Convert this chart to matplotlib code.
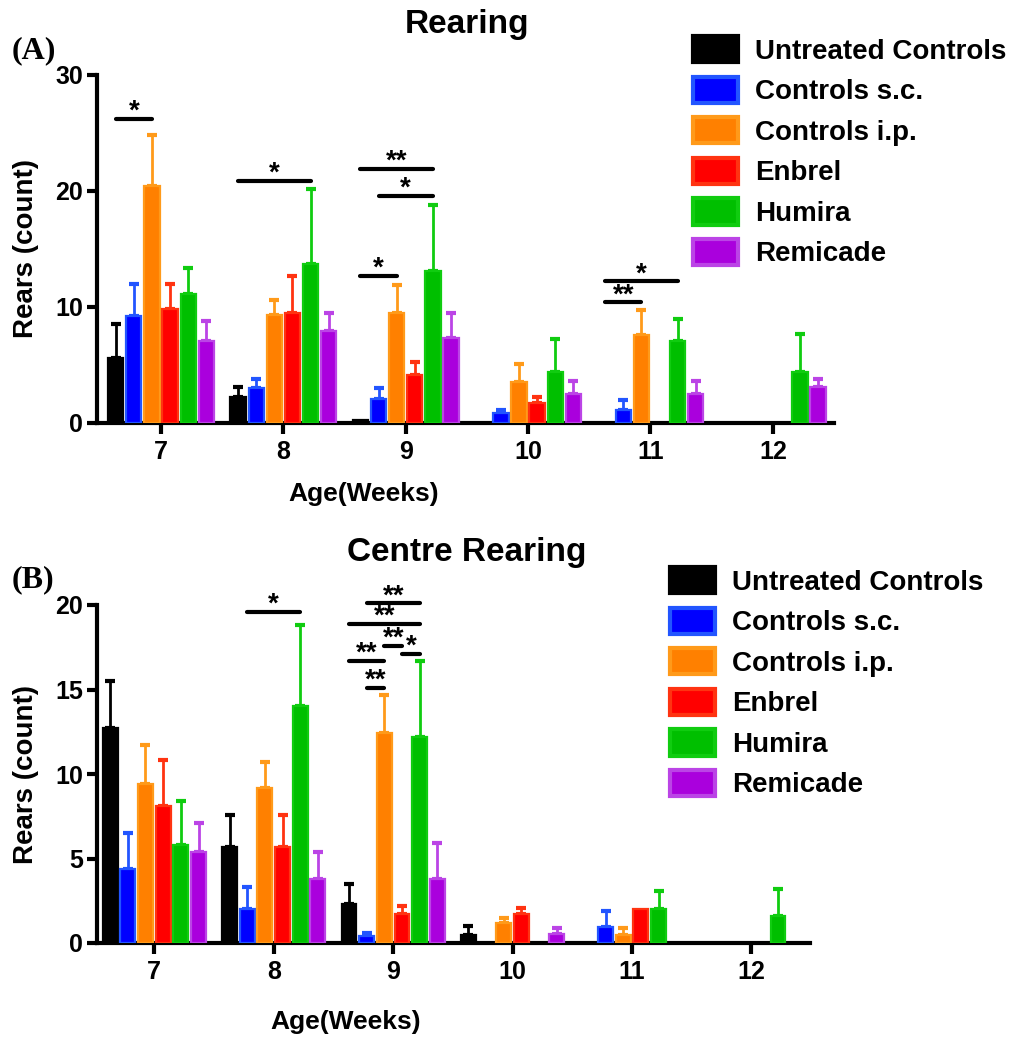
import matplotlib
matplotlib.use('Agg')
import matplotlib.pyplot as plt
import numpy as np
from matplotlib.patches import Patch

plt.rcParams['font.family'] = ['Liberation Sans', 'DejaVu Sans']
plt.rcParams['font.weight'] = 'bold'

# ---------------- data ----------------
weeks = [7, 8, 9, 10, 11, 12]
series = ['Untreated Controls', 'Controls s.c.', 'Controls i.p.', 'Enbrel', 'Humira', 'Remicade']
face_colors = ['#000000', '#0000FF', '#FF8000', '#FF0000', '#00BF00', '#AA00DD']
edge_colors = ['#000000', '#2255FF', '#FF9A1A', '#FF3311', '#10CC10', '#BB44E6']

# Panel A: Rearing (mean, SEM)
rear_untreated = [5.6, 2.2, 0.3, 0.0, 0.0, 0.0]
rear_untreated_sem = [2.9, 0.9, 0.0, 0.0, 0.0, 0.0]
rear_sc = [9.2, 3.0, 2.1, 0.9, 1.1, 0.0]
rear_sc_sem = [2.8, 0.8, 0.9, 0.2, 0.9, 0.0]
rear_ip = [20.4, 9.3, 9.5, 3.5, 7.6, 0.0]
rear_ip_sem = [4.4, 1.3, 2.4, 1.6, 2.1, 0.0]
rear_enbrel = [9.8, 9.5, 4.1, 1.7, 0.0, 0.0]
rear_enbrel_sem = [2.2, 3.2, 1.2, 0.5, 0.0, 0.0]
rear_humira = [11.1, 13.7, 13.1, 4.4, 7.1, 4.4]
rear_humira_sem = [2.3, 6.5, 5.7, 2.8, 1.9, 3.3]
rear_remicade = [7.1, 7.9, 7.3, 2.5, 2.5, 3.1]
rear_remicade_sem = [1.7, 1.6, 2.2, 1.1, 1.1, 0.7]

# Panel B: Centre rearing (mean, SEM)
centre_untreated = [12.7, 5.7, 2.3, 0.5, 0.0, 0.0]
centre_untreated_sem = [2.8, 1.9, 1.2, 0.5, 0.0, 0.0]
centre_sc = [4.4, 2.0, 0.4, 0.0, 0.95, 0.0]
centre_sc_sem = [2.1, 1.3, 0.2, 0.0, 0.95, 0.0]
centre_ip = [9.4, 9.2, 12.4, 1.2, 0.5, 0.0]
centre_ip_sem = [2.3, 1.5, 2.3, 0.3, 0.4, 0.0]
centre_enbrel = [8.1, 5.7, 1.7, 1.7, 2.0, 0.0]
centre_enbrel_sem = [2.7, 1.9, 0.5, 0.4, 0.0, 0.0]
centre_humira = [5.8, 14.0, 12.2, 0.0, 2.0, 1.6]
centre_humira_sem = [2.6, 4.8, 4.5, 0.0, 1.1, 1.6]
centre_remicade = [5.4, 3.8, 3.8, 0.55, 0.0, 0.0]
centre_remicade_sem = [1.7, 1.6, 2.1, 0.35, 0.0, 0.0]

# significance brackets: (week, series_i, series_j, height, label)
sig_rearing = [(7, 0, 2, 26.2, '*'), (8, 0, 4, 20.9, '*'), (9, 0, 4, 21.9, '**'),
               (9, 1, 4, 19.6, '*'), (9, 0, 2, 12.7, '*'), (11, 0, 4, 12.2, '*'),
               (11, 0, 2, 10.4, '**')]
sig_centre = [(8, 1, 4, 19.6, '*'), (9, 1, 4, 20.1, '**'), (9, 0, 4, 18.9, '**'),
              (9, 2, 3, 17.6, '**'), (9, 3, 4, 17.1, '*'), (9, 0, 2, 16.7, '**'),
              (9, 1, 2, 15.1, '**')]

rear_means = [rear_untreated, rear_sc, rear_ip, rear_enbrel, rear_humira, rear_remicade]
rear_sems = [rear_untreated_sem, rear_sc_sem, rear_ip_sem, rear_enbrel_sem, rear_humira_sem, rear_remicade_sem]
centre_means = [centre_untreated, centre_sc, centre_ip, centre_enbrel, centre_humira, centre_remicade]
centre_sems = [centre_untreated_sem, centre_sc_sem, centre_ip_sem, centre_enbrel_sem, centre_humira_sem, centre_remicade_sem]

W, H = 1011, 1039
fig = plt.figure(figsize=(W / 100, H / 100), dpi=100)

pitch = 0.148
bar_w = 0.125
offsets = [(i - 2.5) * pitch for i in range(6)]


def draw_panel(ax, means, sems, sigs, ylim, yticks, xlim):
    x = np.array(weeks, dtype=float)
    for i in range(6):
        xs = x + offsets[i]
        m = np.array(means[i])
        s = np.array(sems[i])
        nz = m > 0
        ax.bar(xs[nz], m[nz], width=bar_w, color=face_colors[i], edgecolor=edge_colors[i],
               linewidth=1.6, zorder=3)
        mask = s > 0
        if mask.any():
            ax.errorbar(xs[mask], m[mask], yerr=[np.zeros(mask.sum()), s[mask]], fmt='none',
                        ecolor=edge_colors[i], elinewidth=2.0, capsize=3.5, capthick=3,
                        zorder=2)
    for wk, a, b, yv, lab in sigs:
        x1 = wk + offsets[a]
        x2 = wk + offsets[b]
        ax.plot([x1, x2], [yv, yv], color='black', lw=3.0, solid_capstyle='round',
                clip_on=False, zorder=5)
        ax.annotate(lab, xy=((x1 + x2) / 2, yv), xytext=(0, 0), textcoords='offset points',
                    ha='center', va='baseline', fontsize=20, fontweight='bold',
                    annotation_clip=False, zorder=5)
    ax.set_xlim(*xlim)
    ax.set_ylim(*ylim)
    ax.set_xticks(weeks)
    ax.set_yticks(yticks)
    for sp in ['top', 'right']:
        ax.spines[sp].set_visible(False)
    for sp in ['left', 'bottom']:
        ax.spines[sp].set_linewidth(3)
    ax.tick_params(axis='y', length=7, width=3, labelsize=18, pad=3)
    ax.tick_params(axis='x', length=8, width=3, labelsize=18, pad=4)
    for lab in ax.get_xticklabels() + ax.get_yticklabels():
        lab.set_fontweight('bold')


axA = fig.add_axes([97 / W, 1 - 423 / H, (834 - 97) / W, (423 - 75) / H])
draw_panel(axA, rear_means, rear_sems, sig_rearing, (0, 30), [0, 10, 20, 30], (6.477, 12.5))
axA.set_ylabel('Rears (count)', fontsize=20, fontweight='bold')
axA.yaxis.set_label_coords(-0.079, 0.5)
axA.set_xlabel('Age(Weeks)', fontsize=19, fontweight='bold')
axA.xaxis.set_label_coords(0.362, -0.17)

axB = fig.add_axes([97 / W, 1 - 943 / H, (810 - 97) / W, (943 - 605) / H])
draw_panel(axB, centre_means, centre_sems, sig_centre, (0, 20), [0, 5, 10, 15, 20], (6.52, 12.49))
axB.set_ylabel('Rears (count)', fontsize=20, fontweight='bold')
axB.yaxis.set_label_coords(-0.082, 0.5)
axB.set_xlabel('Age(Weeks)', fontsize=19, fontweight='bold')
axB.xaxis.set_label_coords(0.349, -0.198)

fig.text(467 / W, 1 - 25 / H, 'Rearing', ha='center', va='center', fontsize=24, fontweight='bold')
fig.text(467 / W, 1 - 553 / H, 'Centre Rearing', ha='center', va='center', fontsize=24, fontweight='bold')
fig.text(12 / W, 1 - 51 / H, '(A)', ha='left', va='center', fontsize=23, fontweight='bold',
         family=['Liberation Serif', 'DejaVu Serif'])
fig.text(12 / W, 1 - 580 / H, '(B)', ha='left', va='center', fontsize=23, fontweight='bold',
         family=['Liberation Serif', 'DejaVu Serif'])

handles = [Patch(facecolor=face_colors[i], edgecolor=edge_colors[i], linewidth=3, label=series[i])
           for i in range(6)]
for ax, (lx, ly) in [(axA, (693, 36)), (axB, (670, 567))]:
    ax.legend(handles=handles, loc='upper left', bbox_to_anchor=(lx / W, 1 - ly / H),
              bbox_transform=fig.transFigure, frameon=False, borderpad=0, borderaxespad=0,
              handlelength=1.62, handleheight=1.08, handletextpad=0.6, labelspacing=0.43,
              prop={'size': 20, 'weight': 'bold'})

fig.savefig('out.png', dpi=100)
